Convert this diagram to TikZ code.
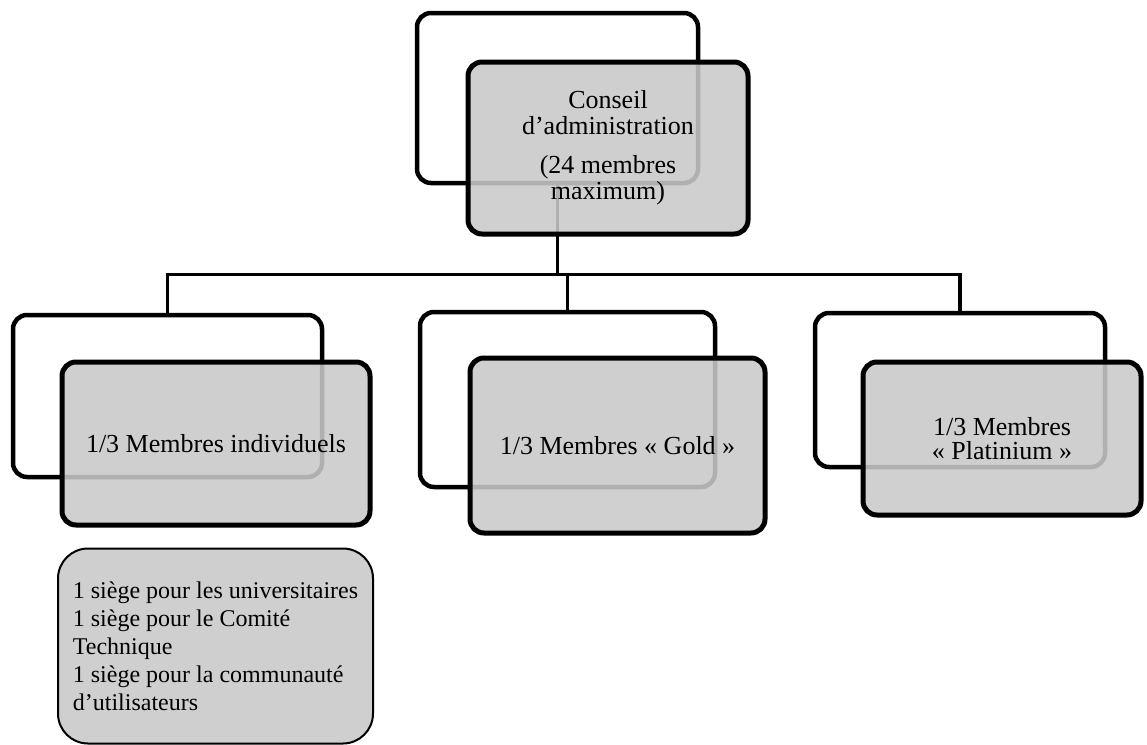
\documentclass[tikz,border=0pt]{standalone}
\usepackage{fontspec}
\setmainfont{Liberation Serif}
\usepackage{tikz}
\usetikzlibrary{positioning, calc}

\begin{document}
\begin{tikzpicture}[
  x=1pt, y=-1pt,
  back/.style={rectangle, draw, line width=4.5pt, rounded corners=14pt, fill=white, inner sep=0pt},
  front/.style={rectangle, draw, line width=5pt, rounded corners=14pt, fill=black!21, fill opacity=0.88, text opacity=1, draw opacity=1, inner sep=0pt, align=center, font=\fontsize{26}{26}\selectfont},
  seats/.style={rectangle, draw, line width=2pt, rounded corners=30pt, fill=black!19, inner sep=0pt, align=left, font=\fontsize{24}{28}\selectfont},
  link/.style={line width=3.5pt},
]
\useasboundingbox (0,0) rectangle (1147,744);

\node[back, minimum width=281pt, minimum height=170pt] (boardback) at (557.5,98) {};
\node[back, minimum width=309pt, minimum height=162pt] (indivback) at (167.5,396) {};
\node[back, minimum width=295pt, minimum height=175pt] (goldback) at (567.5,399.5) {};
\node[back, minimum width=290pt, minimum height=154pt] (platback) at (960,390) {};

\draw[link] (boardback.south) -- ++(0,89) -| (indivback.north);
\draw[link] (boardback.south) -- ++(0,89) -| (goldback.north);
\draw[link] (boardback.south) -- ++(0,89) -| (platback.north);

\node[front, minimum width=280pt, minimum height=172pt] (board) at (608,148) {Conseil\\d’administration\\[13pt](24 membres\\maximum)};
\node[front, minimum width=308pt, minimum height=163pt] (indiv) at (216,443.5) {1/3 Membres individuels};
\node[front, minimum width=295pt, minimum height=175pt] (gold) at (617.5,445.5) {1/3 Membres «~Gold~»};
\node[front, minimum width=278pt, minimum height=153pt, font=\fontsize{26}{23.5}\selectfont] (plat) at (1002,438.5) {1/3 Membres\\«~Platinium~»};

\node[seats, minimum width=315pt, minimum height=195pt] (seatlist) at (215.5,646) {1 siège pour les universitaires\\1 siège pour le Comité\\Technique\\1 siège pour la communauté\\d’utilisateurs};
\end{tikzpicture}
\end{document}
